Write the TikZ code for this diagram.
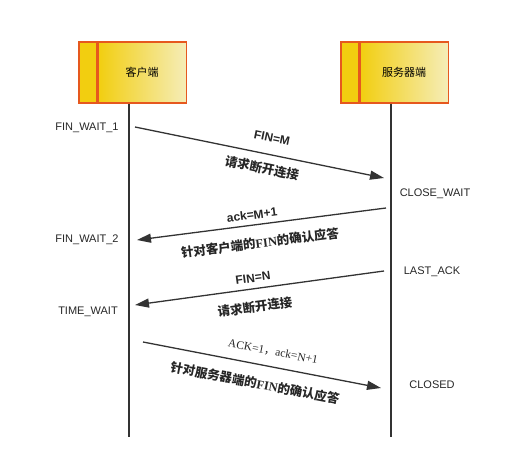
\documentclass[tikz,border=0pt]{standalone}
\usepackage{fontspec}
\setmainfont{Liberation Sans}
\newfontfamily\cjk{Noto Sans CJK SC}
\newfontfamily\serif{Liberation Serif}
\usetikzlibrary{arrows.meta}

\definecolor{boxgold}{HTML}{F2CE10}
\definecolor{boxpale}{HTML}{F5EDB8}
\definecolor{boxline}{HTML}{E6581E}
\definecolor{linegray}{HTML}{333333}

\tikzset{
  party/.style={draw=boxline, line width=1.2pt, left color=boxgold, right color=boxpale,
    minimum width=88pt, minimum height=61pt, inner sep=0pt, font=\cjk\fontsize{11}{13}\selectfont},
  strip/.style={draw=boxline, line width=1.2pt, fill=boxgold, minimum width=18pt,
    minimum height=61pt, inner sep=0pt},
  life/.style={linegray, line width=1.3pt},
  msg/.style={linegray, line width=1.3pt, -{Triangle[length=14pt,width=9pt]}},
  state/.style={font=\fontsize{11}{13}\selectfont, text=black!85},
  head/.style={font=\bfseries\fontsize{12}{14}\selectfont, text=black!85, inner sep=1pt},
  note/.style={font=\cjk\bfseries\fontsize{12.5}{14}\selectfont, text=black!85, inner sep=1pt}
}

\begin{document}
\begin{tikzpicture}[x=1pt, y=-1pt]
  \useasboundingbox (0,0) rectangle (520,465);

  % Parties
  \node[strip] (cstrip) at (88,72.5) {};
  \node[party, anchor=west] (client) at (cstrip.east) {客户端};
  \node[strip] (sstrip) at (350,72.5) {};
  \node[party, anchor=west] (server) at (sstrip.east) {服务器端};

  % Lifelines
  \coordinate (cend) at (129,437);
  \coordinate (send) at (391,437);
  \draw[life] (client.south -| cend) -- (cend);
  \draw[life] (server.south -| send) -- (send);

  % Message ends
  \coordinate (m1a) at (135,127);
  \coordinate (m1b) at (384,178);
  \coordinate (m2a) at (386,208);
  \coordinate (m2b) at (137,240);
  \coordinate (m3a) at (384,271);
  \coordinate (m3b) at (135,305);
  \coordinate (m4a) at (143,342);
  \coordinate (m4b) at (381,388);

  % Messages
  \draw[msg] (m1a) -- (m1b);
  \draw[msg] (m2a) -- (m2b);
  \draw[msg] (m3a) -- (m3b);
  \draw[msg] (m4a) -- (m4b);

  % Message labels
  \node[head, rotate=-11.6] (l1a) at (272,138) {FIN=M};
  \node[note, rotate=-11.6] (l1b) at (262,168) {请求断开连接};
  \node[head, rotate=7.4] (l2a) at (252,215) {ack=M+1};
  \node[note, rotate=7.4] (l2b) at (260,243) {针对客户端的{\serif FIN}的确认应答};
  \node[head, rotate=7.8] (l3a) at (253,278) {FIN=N};
  \node[note, rotate=7.8] (l3b) at (255,307) {请求断开连接};
  \node[rotate=-11, inner sep=1pt, font=\serif\fontsize{11.5}{13}\selectfont,
    text=black!85] (l4a) at (273,352) {ACK=1{\cjk ，}ack=N+1};
  \node[note, rotate=-11] (l4b) at (255,383) {针对服务器端的{\serif FIN}的确认应答};

  % Client states
  \node[state] (fw1) at (87,128) {FIN\_WAIT\_1};
  \node[state] (fw2) at (87,240) {FIN\_WAIT\_2};
  \node[state] (tw) at (88,312) {TIME\_WAIT};

  % Server states
  \node[state] (cw) at (435,194) {CLOSE\_WAIT};
  \node[state] (la) at (432,272) {LAST\_ACK};
  \node[state] (cl) at (432,385) {CLOSED};
\end{tikzpicture}
\end{document}
